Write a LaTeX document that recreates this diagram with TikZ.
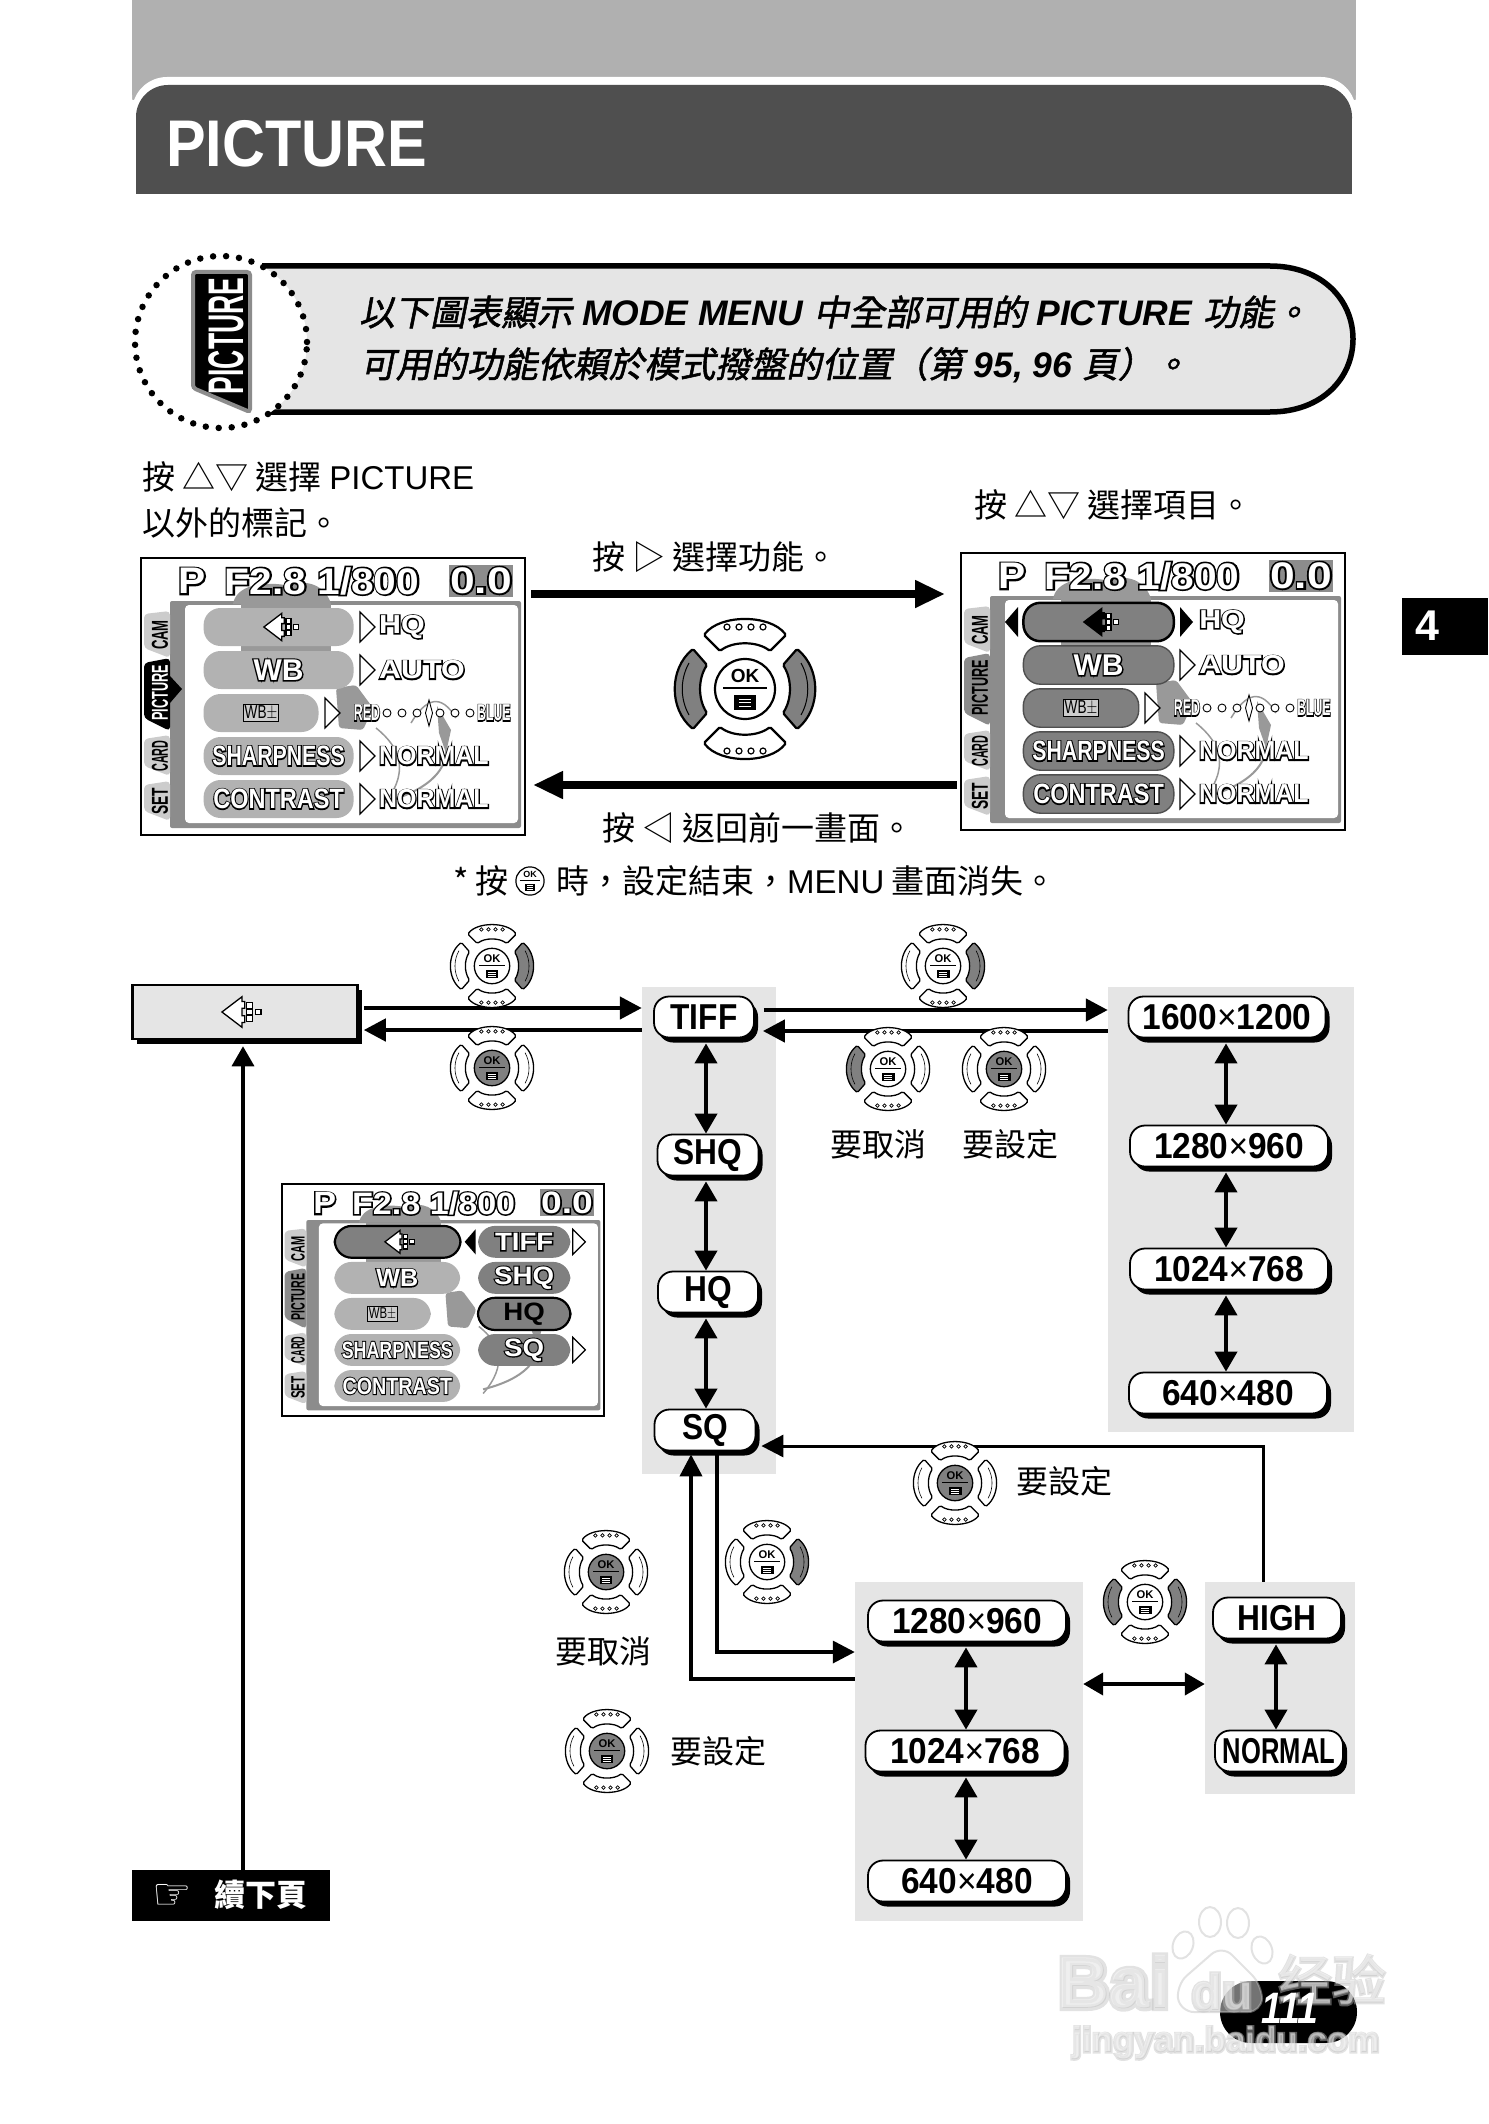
\documentclass[tikz,border=0pt]{standalone}
\usepackage{fontspec}
\setmainfont{Liberation Sans}
\newfontfamily\cjk{Noto Sans CJK TC}
\newfontfamily\cjkfat[FakeBold=6]{Noto Sans CJK TC}
\newfontfamily\cjkslant[FakeSlant=0.2,FakeBold=1.5]{Noto Sans CJK TC}
\newfontfamily\halofat[BoldFeatures={FakeBold=9}]{Liberation Sans}
\newfontfamily\symfont{DejaVu Sans}
\usetikzlibrary{arrows.meta,shadows}

\definecolor{topgray}{gray}{.69}
\definecolor{headgray}{gray}{.31}
\definecolor{panelgray}{gray}{.90}
\definecolor{padgray}{gray}{.50}
\definecolor{pilllight}{gray}{.70}
\definecolor{pilldark}{gray}{.50}
\definecolor{framegray}{gray}{.55}
\definecolor{tablight}{gray}{.80}
\definecolor{blobgray}{gray}{.60}

\newcommand{\sz}[1]{\fontsize{#1}{#1}\selectfont}
\newcommand{\halo}[1]{\leavevmode\rlap{\textcolor{black}{\halofat\bfseries #1}}\textcolor{white}{\bfseries #1}}
\newcommand{\markhalo}[1]{\leavevmode\rlap{\textcolor{gray!50}{\halofat\bfseries #1}}\textcolor{white}{\bfseries #1}}
\newcommand{\lettersx}[1]{\scalebox{.88}[1]{#1}}
\newcommand{\sizesx}[2]{\scalebox{.93}[1]{#1{\mdseries ×}#2}}

\tikzset{
    lab/.style={anchor=west,inner sep=0pt,font=\sz{33}\cjk},
    mid/.style={inner sep=0pt,font=\sz{32}\cjk},
    panel/.style={fill=panelgray,inner sep=0pt},
    pill/.style={draw=black,line width=1.8pt,fill=white,rounded corners=15pt,minimum height=41pt,
        inner sep=0pt,font=\sz{36}\bfseries,drop shadow={shadow xshift=4pt,shadow yshift=-5pt,fill=black,opacity=1}},
    oneway/.style={line width=4.5pt,-{Triangle[length=22pt,width=22pt]}},
    twoway/.style={line width=4pt,{Triangle[length=20pt,width=22pt]}-{Triangle[length=20pt,width=22pt]}},
    bigway/.style={line width=8pt,-{Triangle[length=30pt,width=26pt]}},
    rowpill/.style={inner sep=0pt,rounded corners=17pt,minimum height=38pt},
    scrtext/.style={inner sep=0pt,font=\sz{26}},
    tablabel/.style={inner sep=0pt,rotate=90,font=\sz{23}\bfseries},
    hollow/.style={draw=black,line width=1.2pt,fill=white},
}

% quality sign
\newcommand{\qicon}[4]{%
    \begin{scope}[shift={(#1,#2)},scale=#3]
        \draw[line width=1.3pt,fill=#4] (2,-16) -- (-19,0) -- (2,16) -- (2,11) -- (5,11) -- (5,4) -- (2,4) -- (2,-4) -- (5,-4) -- (5,-11) -- (2,-11) -- cycle;
        \foreach \yy in {-10,-3,4}
            \draw[line width=1.2pt,fill=white] (7,\yy) rectangle (13,\yy+6);
        \draw[line width=1.2pt,fill=white] (16,-3) rectangle (22,3);
    \end{scope}}

% disc with the OK sign
\newcommand{\okdisc}[1]{%
    \draw[fill=#1] (0,0) circle [radius=30];
    \node[inner sep=0pt,font=\sz{19}\bfseries] (ok) at (0,-13) {OK};
    \draw[line width=1.6pt] (-22,-1) -- (22,-1);
    \fill (-11,6) rectangle (11,21);
    \foreach \yy in {10,13.5,17}
        \draw[white,line width=.8pt] (-6,\yy) -- (6,\yy);}

% arrow pad: name, x, y, scale, left, right, centre
\newcommand{\dpad}[7]{%
    \begin{scope}[shift={(#2,#3)},scale=#4,name prefix=#1-,every node/.style={transform shape},line width=#4*2.2pt]
        \foreach \s/\c in {-1/#5,1/#6}{
            \begin{scope}[xscale=\s]
                \draw[fill=\c,rounded corners=1.5pt] (52,-40) .. controls (76,-20) and (76,20) .. (52,40) -- (38,24) .. controls (47,10) and (47,-10) .. (38,-24) -- cycle;
                \draw[line width=#4*1pt] (56,-26) .. controls (65,-10) and (65,10) .. (56,26);
            \end{scope}
        }
        \foreach \s in {1,-1}{
            \begin{scope}[yscale=\s]
                \draw[fill=white,rounded corners=1.5pt] (-41,-54) .. controls (-25,-75) and (25,-75) .. (41,-54) -- (25,-38) .. controls (12,-48) and (-12,-48) .. (-25,-38) -- cycle;
                \foreach \xx in {-18,-6,6,18}
                    \draw[line width=#4*1.2pt,fill=white] (\xx,-62) circle [radius=3];
            \end{scope}
        }
        \okdisc{#7}
    \end{scope}}

% camera screen: picture tab colour, its text colour
\newcommand{\screenframe}[2]{%
    \draw[line width=2.5pt,fill=white] (0,0) rectangle (384,277);
    \fill[framegray,rounded corners=2pt] (29,43) rectangle (380,270);
    \fill[white,rounded corners=4pt] (44,47) rectangle (377,265);
    % map behind the menu
    \fill[blobgray] (92,46) .. controls (95,28) and (120,22) .. (150,28) .. controls (165,20) and (185,28) .. (190,46) -- cycle;
    \fill[blobgray] (100,46) rectangle (190,94);
    \fill[blobgray,rounded corners=3pt] (195,130) -- (215,127) -- (232,150) -- (222,172) -- (198,170) -- cycle;
    \fill[blobgray] (296,148) -- (310,172) -- (305,195) -- (298,175) -- cycle;
    \draw[blobgray,line width=1.5pt] (235,170) .. controls (260,190) and (270,215) .. (240,250);
    \draw[blobgray,line width=2pt] (300,170) .. controls (315,200) and (300,230) .. (240,245);
    \draw[blobgray,line width=1.5pt] (270,165) .. controls (285,140) and (300,135) .. (315,160);
    % header
    \node[scrtext,font=\sz{37},xscale=1.1] (mode) at (51,23) {\halo{P}};
    \node[scrtext,font=\sz{37},xscale=1.1] (aper) at (181,23) {\halo{F2.8 1/800}};
    \node[fill=framegray,minimum width=64pt,minimum height=32pt,inner sep=0pt] (evbox) at (340,22.5) {};
    \node[scrtext,font=\sz{37},xscale=1.2] (ev) at (evbox) {\halo{0.0}};
    % tabs
    \fill[tablight,rounded corners=4pt] (29,53) -- (3,56) -- (3,90) -- (29,100) -- cycle;
    \fill[#1,rounded corners=4pt] (29,100) -- (3,105) -- (3,160) -- (29,173) -- cycle;
    \fill[tablight,rounded corners=4pt] (29,177) -- (3,181) -- (3,208) -- (29,218) -- cycle;
    \fill[tablight,rounded corners=4pt] (29,223) -- (3,227) -- (3,253) -- (29,263) -- cycle;
    \node[tablabel,xscale=.57] (cam) at (19,77) {CAM};
    \node[tablabel,xscale=.55,text=#2] (pict) at (19,135) {PICTURE};
    \node[tablabel,xscale=.47] (card) at (19,198) {CARD};
    \node[tablabel,xscale=.6] (setup) at (19,243) {SET};}

% left column of the menu
\newcommand{\leftpills}[1]{%
    \foreach \row/\yy/\ww/\xx in {1/69/150/137.6,2/112/150/137.6,3/155/115/120,4/198/150/137.6,5/241/150/137.6}
        \node[rowpill,fill=#1,minimum width=\ww pt] (p\row) at (\xx,\yy) {};}
\newcommand{\leftlabels}{%
    \node[scrtext,font=\sz{30}] (wb) at (p2) {\halo{WB}};
    \node[draw=black,fill=tablight,line width=.8pt,inner sep=1.5pt,font=\sz{17}] (wbx) at (p3) {\scalebox{.8}[1.1]{WB$\pm$}};
    \node[scrtext,font=\sz{28},xscale=.76] (sharp) at (p4) {\halo{SHARPNESS}};
    \node[scrtext,font=\sz{28},xscale=.84] (contr) at (p5) {\halo{CONTRAST}};}
\newcommand{\hollowtri}[2]{\draw[hollow] (#1,#2-15) -- (#1+15,#2) -- (#1,#2+15) -- cycle;}
\newcommand{\solidtri}[3]{\fill (#1,#2-15) -- (#1+#3,#2) -- (#1,#2+15) -- cycle;}
% right side of the menu
\newcommand{\valuecolumn}{%
    \hollowtri{219}{112}
    \hollowtri{184}{155}
    \hollowtri{219}{198}
    \hollowtri{219}{241}
    \node[scrtext,anchor=west,xscale=1.17] (vhq) at (238,69) {\halo{HQ}};
    \node[scrtext,anchor=west,xscale=1.17] (vauto) at (238,112) {\halo{AUTO}};
    \node[scrtext,anchor=west,xscale=.96] (vsharp) at (238,198) {\halo{NORMAL}};
    \node[scrtext,anchor=west,xscale=.96] (vcontr) at (238,241) {\halo{NORMAL}};
    \node[scrtext,font=\sz{23},xscale=.54] (vred) at (226,155) {\halo{RED}};
    \node[scrtext,font=\sz{23},xscale=.53] (vblue) at (353,155) {\halo{BLUE}};
    \foreach \xx in {246,261,276,299,314,329}
        \draw[hollow,line width=.9pt] (\xx,155) circle [radius=4];
    \draw[hollow,line width=.9pt] (288,142) -- (291.5,155) -- (288,168) -- (284.5,155) -- cycle;}

\begin{document}
\begin{tikzpicture}[x=1pt,y=-1pt]
    \useasboundingbox (0,0) rectangle (1488,2124);

    % page head
    \fill[topgray] (132,0) rectangle (1356,100);
    \fill[white,rounded corners=35pt] (132,130) -- (132,77) -- (1356,77) -- (1356,130) -- cycle;
    \fill[headgray,rounded corners=32pt] (136,150) -- (136,85) -- (1352,85) -- (1352,150) -- cycle;
    \fill[headgray] (136,120) rectangle (1352,194);
    \node[anchor=west,inner sep=0pt,white,font=\sz{66}\bfseries,xscale=.9] (title) at (166,144) {PICTURE};

    % chapter tab
    \fill (1402,598) rectangle (1488,655);
    \node[inner sep=0pt,white,font=\sz{43}\bfseries] (chapter) at (1427,626) {4};

    % intro banner
    \draw[line width=5.5pt,fill=panelgray] (262,266) -- (1270,266) .. controls (1322,266) and (1353,300) .. (1353,339) .. controls (1353,378) and (1322,412) .. (1270,412) -- (262,412);
    \fill[white] (221,342) ellipse [x radius=86pt,y radius=86pt];
    \draw[line width=6.5pt,line cap=round,dash pattern=on 0pt off 13pt] (221,342) ellipse [x radius=86pt,y radius=86pt];
    \draw[line width=4pt,draw=framegray,fill=black,rounded corners=3pt] (193,272) -- (250,272) -- (250,412) -- (193,388) -- cycle;
    \node[inner sep=0pt,rotate=90,xscale=.53,white,font=\sz{50}\bfseries] (tabtext) at (226,336) {PICTURE};
    \node[lab,font=\sz{35.5}] (introa) at (359,312) {{\cjkslant 以下圖表顯示} \textbf{\textit{MODE MENU}} {\cjkslant 中全部可用的} \textbf{\textit{PICTURE}} {\cjkslant 功能。}};
    \node[lab,font=\sz{35.5}] (introb) at (360,365) {{\cjkslant 可用的功能依賴於模式撥盤的位置（第} \textbf{\textit{95, 96}} {\cjkslant 頁）。}};

    % how to use the menu
    \node[lab] (stepa) at (142,477) {按 △▽ 選擇 {\rmfamily PICTURE}};
    \node[lab] (stepb) at (142,523) {以外的標記。};
    \node[lab] (stepc) at (974,505) {按 △▽ 選擇項目。};
    \node[lab] (stepd) at (592,557) {按 ▷ 選擇功能。};
    \node[lab] (stepe) at (602,828) {按 ◁ 返回前一畫面。};
    \node[lab] (stepf) at (453,881) {* 按};
    \begin{scope}[shift={(530,881)},scale=.47,name prefix=mark-,every node/.style={transform shape},line width=1.2pt]
        \okdisc{white}
    \end{scope}
    \node[lab] (stepg) at (556,881) {時，設定結束，{\rmfamily MENU} 畫面消失。};

    % first screen
    \begin{scope}[shift={(141,558)},name prefix=a-,every node/.style={transform shape}]
        \screenframe{black}{white}
        \fill (29,118) -- (41,131) -- (29,145) -- cycle;
        \leftpills{pilllight}
        \hollowtri{219}{69}
        \valuecolumn
        \leftlabels
        \qicon{139}{69}{.85}{white}
    \end{scope}

    % second screen
    \begin{scope}[shift={(961,553)},name prefix=b-,every node/.style={transform shape}]
        \screenframe{framegray}{black}
        \leftpills{pilldark}
        \foreach \row in {2,3,4,5}
            \draw[line width=1.4pt,draw=headgray,rounded corners=17pt] (p\row.north west) rectangle (p\row.south east);
        \draw[line width=2.5pt,rounded corners=17pt] (p1.north west) rectangle (p1.south east);
        \solidtri{219}{69}{13}
        \solidtri{57}{69}{-13}
        \valuecolumn
        \leftlabels
        \qicon{139}{69}{.85}{black}
    \end{scope}

    \coordinate (goa) at (531,594);
    \coordinate (goz) at (945,594);
    \coordinate (backa) at (957,785);
    \coordinate (backz) at (533,785);
    \draw[bigway] (goa) -- (goz);
    \draw[bigway] (backa) -- (backz);
    \dpad{bigpad}{745}{689}{1}{padgray}{padgray}{white}

    % grey columns of the chart
    \node[panel,minimum width=134pt,minimum height=487pt] (tiffcol) at (709,1230.5) {};
    \node[panel,minimum width=246pt,minimum height=445pt] (rescol) at (1231,1209.5) {};
    \node[panel,minimum width=228pt,minimum height=339pt] (rawcol) at (969,1751.5) {};
    \node[panel,minimum width=150pt,minimum height=212pt] (compcol) at (1280,1688) {};

    % chart boxes
    \node[draw=black,line width=2.5pt,fill=panelgray,minimum width=225pt,minimum height=54pt,inner sep=0pt,
        drop shadow={shadow xshift=4pt,shadow yshift=-5pt,fill=black,opacity=1}] (quality) at (245,1012) {};
    \qicon{240}{1012}{.95}{white}

    \node[pill,minimum width=100pt] (tiff) at (704,1017) {\lettersx{TIFF}};
    \node[pill,minimum width=101pt] (shq) at (708,1155) {\lettersx{SHQ}};
    \node[pill,minimum width=100pt] (hq) at (708,1292) {\lettersx{HQ}};
    \node[pill,minimum width=101pt] (sq) at (705,1430) {\lettersx{SQ}};

    \node[pill,minimum width=197pt] (resa) at (1227,1017) {\sizesx{1600}{1200}};
    \node[pill,minimum width=198pt] (resb) at (1229,1146) {\sizesx{1280}{960}};
    \node[pill,minimum width=198pt] (resc) at (1229,1269) {\sizesx{1024}{768}};
    \node[pill,minimum width=198pt] (resd) at (1228,1393) {\sizesx{640}{480}};

    \node[pill,minimum width=198pt] (rawa) at (967,1621) {\sizesx{1280}{960}};
    \node[pill,minimum width=199pt] (rawb) at (965,1751) {\sizesx{1024}{768}};
    \node[pill,minimum width=198pt] (rawc) at (967,1881) {\sizesx{640}{480}};

    \node[pill,minimum width=128pt] (high) at (1277,1618) {\lettersx{HIGH}};
    \node[pill,minimum width=128pt] (normal) at (1279,1751) {\scalebox{.71}[1]{NORMAL}};

    % chart arrows
    \draw[oneway,shorten <=5pt] (quality.east |- 0,1008) -- (tiffcol.west |- 0,1008);
    \draw[oneway,shorten >=5pt] (tiffcol.west |- 0,1030) -- (quality.east |- 0,1030);
    \draw[oneway,shorten <=9pt] (tiff.east |- 0,1010) -- (rescol.west |- 0,1010);
    \draw[oneway,shorten >=8pt] (rescol.west |- 0,1031) -- (tiff.east |- 0,1031);

    \coordinate (axisa) at (706,0);
    \coordinate (axisb) at (1226,0);
    \coordinate (axisc) at (966,0);
    \coordinate (axisd) at (1276,0);
    \draw[twoway,shorten <=5pt] (tiff.south -| axisa) -- (shq.north -| axisa);
    \draw[twoway,shorten <=5pt] (shq.south -| axisa) -- (hq.north -| axisa);
    \draw[twoway,shorten <=5pt] (hq.south -| axisa) -- (sq.north -| axisa);
    \draw[twoway,shorten <=5pt] (resa.south -| axisb) -- (resb.north -| axisb);
    \draw[twoway,shorten <=5pt] (resb.south -| axisb) -- (resc.north -| axisb);
    \draw[twoway,shorten <=5pt] (resc.south -| axisb) -- (resd.north -| axisb);
    \draw[twoway,shorten <=5pt] (rawa.south -| axisc) -- (rawb.north -| axisc);
    \draw[twoway,shorten <=5pt] (rawb.south -| axisc) -- (rawc.north -| axisc);
    \draw[twoway,shorten <=5pt] (high.south -| axisd) -- (normal.north -| axisd);
    \draw[twoway] (rawcol.east |- 0,1684) -- (compcol.west |- 0,1684);

    \draw[line width=3pt,-{Triangle[length=22pt,width=22pt]},shorten >=5pt] (compcol.north -| 1263,0) |- (sq.east |- 0,1446);
    \draw[line width=3.5pt,-{Triangle[length=22pt,width=22pt]}] (sq.south -| 717,0) |- (rawcol.west |- 0,1652);
    \draw[line width=4pt,-{Triangle[length=22pt,width=22pt]},shorten >=3pt] (rawcol.west |- 0,1679) -| (sq.south -| 691,0);

    % third screen
    \begin{scope}[shift={(282,1184)},scale=.838,name prefix=c-,every node/.style={transform shape}]
        \screenframe{framegray}{black}
        \leftpills{pilllight}
        \fill[pilldark,rounded corners=17pt] (63,50) rectangle (213,88);
        \draw[line width=2.2pt,rounded corners=17pt] (63,50) rectangle (213,88);
        \foreach \row/\yy in {1/69,2/112,3/155,4/198}
            \node[rowpill,fill=pilldark,minimum width=110pt] (q\row) at (289,\yy) {};
        \draw[line width=2.2pt,rounded corners=17pt] (q3.north west) rectangle (q3.south east);
        \solidtri{231}{69}{-13}
        \hollowtri{347}{69}
        \hollowtri{347}{198}
        \leftlabels
        \qicon{139}{69}{.85}{white}
        \node[scrtext,font=\sz{30},xscale=1.1] (vtiff) at (q1) {\halo{TIFF}};
        \node[scrtext,font=\sz{30},xscale=1.1] (vshq) at (q2) {\halo{SHQ}};
        \node[scrtext,font=\sz{30}\bfseries,xscale=1.1] (vhq) at (q3) {HQ};
        \node[scrtext,font=\sz{30},xscale=1.1] (vsq) at (q4) {\halo{SQ}};
    \end{scope}

    % arrow pads of the chart
    \dpad{pada}{492}{966}{.59}{white}{padgray}{white}
    \dpad{padb}{492}{1068}{.59}{white}{white}{padgray}
    \dpad{padc}{943}{966}{.59}{white}{padgray}{white}
    \dpad{padd}{888}{1069}{.59}{padgray}{white}{white}
    \dpad{pade}{1004}{1069}{.59}{white}{white}{padgray}
    \dpad{padf}{955}{1483}{.59}{white}{white}{padgray}
    \dpad{padg}{767}{1562}{.59}{white}{padgray}{white}
    \dpad{padh}{1145}{1602}{.59}{padgray}{padgray}{white}
    \dpad{padi}{606}{1572}{.59}{white}{white}{padgray}
    \dpad{padj}{607}{1751}{.59}{white}{white}{padgray}

    \node[mid] (cancela) at (878,1144) {要取消};
    \node[mid] (seta) at (1010,1144) {要設定};
    \node[mid] (setb) at (1064,1481) {要設定};
    \node[mid] (cancelb) at (603,1651) {要取消};
    \node[mid] (setc) at (718,1751) {要設定};

    % next page tab
    \node[fill=black,minimum width=198pt,minimum height=51pt,inner sep=0pt] (nextpage) at (231,1895.5) {};
    \draw[line width=3.5pt,-{Triangle[length=20pt,width=22pt]},shorten >=6pt] (nextpage.north -| 243,0) -- (quality.south -| 243,0);
    \node[inner sep=0pt,white,font=\sz{44}\symfont] (hand) at (172,1897) {☞};
    \node[inner sep=0pt,white,font=\sz{31}\cjk\bfseries] (nexttext) at (261,1895) {續下頁};

    % page number with the site mark over it
    \node[fill=black,rounded corners=31pt,minimum width=137pt,minimum height=62pt,inner sep=0pt] (pagepill) at (1288.5,2012) {};
    \begin{scope}[opacity=.45]
        \foreach \px/\py/\rx/\ry/\tilt in {1183/1945/10/14/-20,1210/1922/11/15/0,1238/1923/11/15/0,1262/1950/10/14/20}
            \draw[line width=2pt,draw=gray!50,fill=white,rotate around={\tilt:(\px,\py)}] (\px,\py) ellipse [x radius=\rx pt,y radius=\ry pt];
        \draw[line width=2pt,draw=gray!50,fill=white,rounded corners=14pt] (1180,2012) -- (1176,1985) -- (1222,1945) -- (1262,1985) -- (1262,2012) -- cycle;
        \node[inner sep=0pt,font=\sz{72}] (baidu) at (1114,1982) {\markhalo{Bai}};
        \node[inner sep=0pt,font=\sz{50}] (baidub) at (1222,1992) {\markhalo{du}};
        \node[inner sep=0pt,font=\sz{54}] (jingyan) at (1332,1980) {\leavevmode\rlap{\textcolor{gray!50}{\cjkfat 经验}}\textcolor{white}{\cjk 经验}};
        \node[inner sep=0pt,font=\sz{35}] (site) at (1226,2043) {\markhalo{jingyan.baidu.com}};
    \end{scope}
    \node[inner sep=0pt,white,font=\sz{44}\bfseries\itshape,xscale=.85] (pageno) at (1290,2008) {111};
\end{tikzpicture}
\end{document}
